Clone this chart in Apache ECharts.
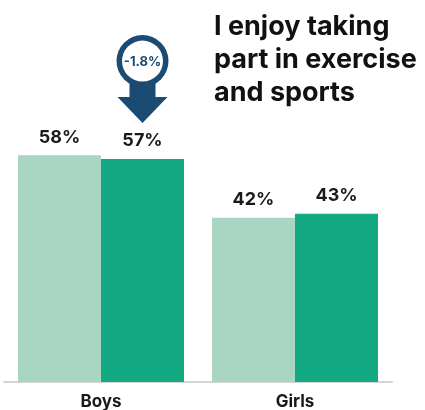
<!DOCTYPE html>
<html><head><meta charset="utf-8">
<script src="https://cdn.jsdelivr.net/npm/echarts@6/dist/echarts.min.js"></script>
<style>html,body{margin:0;padding:0;background:#fff}#c{width:425px;height:410px}</style>
</head><body><div id="c"></div>
<script>
const categories = ['Boys', 'Girls'];
const previousValues = [58, 42];
const currentValues = [57, 43];
const changeLabel = '-1.8%';
const titleLines = ['I enjoy taking', 'part in exercise', 'and sports'];

const BAR_W = 83;
const chart = echarts.init(document.getElementById('c'), null, {renderer: 'canvas'});
const labelStyle = {show: true, position: 'top', distance: 9, formatter: '{c}%', color: '#1a1a1a', fontFamily: 'Inter', fontWeight: 700, fontSize: 18};
chart.setOption({
  animation: false,
  title: {text: titleLines.join('\n'), left: 209, top: 5, textStyle: {fontFamily: 'Inter', fontWeight: 700, fontSize: 27, lineHeight: 33, color: '#111'}},
  grid: {left: 4, right: 33, top: 30, bottom: 28, containLabel: false},
  xAxis: {type: 'category', data: categories, axisLine: {lineStyle: {color: '#d4d4d4', width: 2}}, axisTick: {show: false},
    axisLabel: {color: '#1a1a1a', fontFamily: 'Inter', fontWeight: 700, fontSize: 17, margin: 11}},
  yAxis: {type: 'value', min: 0, max: 90, show: false, splitLine: {show: false}},
  series: [
    {type: 'bar', data: previousValues, barWidth: BAR_W, barGap: '0%', itemStyle: {color: '#a8d6c3'}, label: labelStyle},
    {type: 'bar', data: currentValues, barWidth: BAR_W, barGap: '0%', itemStyle: {color: '#13a982'}, label: labelStyle}
  ]
});

const pt = chart.convertToPixel({gridIndex: 0}, [0, currentValues[0]]);
const cx = pt[0] + BAR_W / 2;
const tip = pt[1] - 36;
const navy = '#1b4a72';
chart.setOption({
  graphic: [
    {type: 'polygon', shape: {points: [[cx - 13, tip - 50], [cx + 13, tip - 50], [cx + 13, tip - 26], [cx + 25, tip - 26], [cx, tip], [cx - 25, tip - 26], [cx - 13, tip - 26]]}, style: {fill: navy}},
    {type: 'circle', shape: {cx: cx, cy: tip - 62, r: 26}, style: {fill: navy}},
    {type: 'circle', shape: {cx: cx, cy: tip - 62, r: 20.5}, style: {fill: '#fff'}},
    {type: 'text', x: cx, y: tip - 61, style: {text: changeLabel, align: 'center', verticalAlign: 'middle', fill: navy, font: '700 13px Inter'}}
  ]
});
</script></body></html>
